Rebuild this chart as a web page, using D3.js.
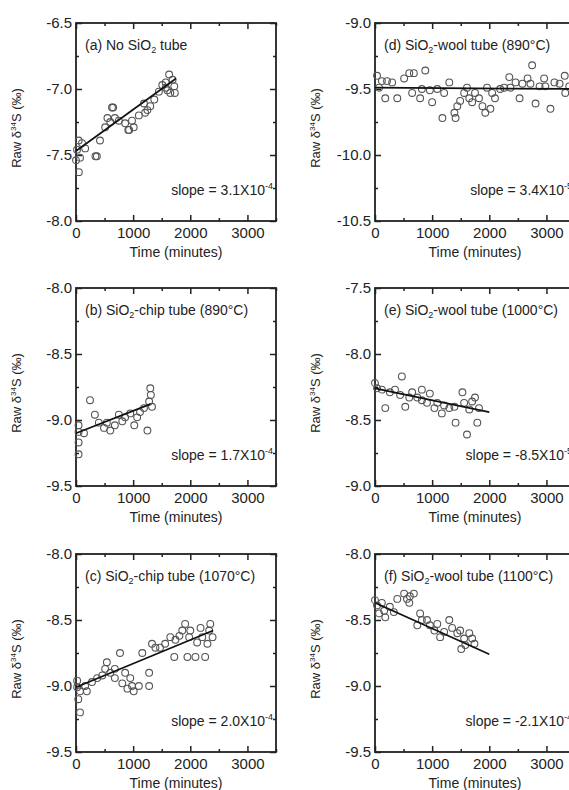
<!DOCTYPE html>
<html>
<head>
<meta charset="utf-8">
<script src="https://cdn.jsdelivr.net/npm/d3@7"></script>
<style>
  body { margin: 0; background: #fff; }
  text { font-family: Arial, "Liberation Sans", sans-serif; fill: #222; }
</style>
</head>
<body>
<script>
// data: [time (minutes), raw d34S (permil)]
var aPoints = [[0,-7.54],[18,-7.46],[47,-7.39],[50,-7.63],[70,-7.52],[105,-7.41],[160,-7.45],[340,-7.51],[365,-7.51],
  [420,-7.39],[510,-7.29],[550,-7.22],[600,-7.25],[630,-7.14],[650,-7.14],[680,-7.22],[750,-7.24],[860,-7.26],
  [915,-7.31],[930,-7.31],[980,-7.24],[1010,-7.29],[1100,-7.20],[1190,-7.11],[1210,-7.18],[1250,-7.16],[1300,-7.13],
  [1370,-7.08],[1450,-7.02],[1510,-6.97],[1570,-6.95],[1570,-6.99],[1600,-7.01],[1630,-6.89],[1650,-7.03],
  [1690,-6.93],[1720,-6.98],[1730,-7.03]];
var dPoints = [[35,-9.40],[70,-9.49],[120,-9.44],[180,-9.57],[210,-9.44],[300,-9.45],[390,-9.57],[510,-9.42],
  [600,-9.38],[650,-9.53],[680,-9.38],[790,-9.57],[820,-9.50],[880,-9.36],[960,-9.51],[1000,-9.60],[1090,-9.50],
  [1180,-9.72],[1210,-9.53],[1300,-9.45],[1390,-9.68],[1410,-9.72],[1440,-9.63],[1490,-9.59],[1560,-9.53],
  [1610,-9.49],[1650,-9.57],[1700,-9.60],[1750,-9.53],[1820,-9.57],[1880,-9.63],[1930,-9.68],[1960,-9.49],
  [2020,-9.65],[2050,-9.53],[2100,-9.57],[2190,-9.50],[2260,-9.49],[2350,-9.41],[2370,-9.49],[2460,-9.45],
  [2530,-9.57],[2580,-9.46],[2670,-9.42],[2720,-9.46],[2750,-9.32],[2810,-9.61],[2880,-9.48],[2960,-9.42],
  [2980,-9.48],[3070,-9.65],[3140,-9.45],[3230,-9.46],[3320,-9.40],[3330,-9.53],[3400,-9.48]];
var bPoints = [[45,-9.04],[45,-9.09],[45,-9.17],[45,-9.26],[140,-9.10],[245,-8.85],[330,-8.96],[400,-9.02],
  [490,-9.06],[540,-9.02],[600,-9.08],[680,-9.04],[750,-8.96],[810,-9.01],[860,-8.98],[950,-8.95],[1020,-9.04],
  [1070,-8.98],[1120,-8.94],[1190,-8.91],[1250,-9.08],[1280,-8.86],[1300,-8.76],[1310,-8.81],[1330,-8.90]];
var ePoints = [[0,-8.22],[35,-8.26],[120,-8.27],[180,-8.41],[260,-8.29],[350,-8.27],[440,-8.31],[470,-8.17],
  [530,-8.40],[600,-8.33],[650,-8.29],[740,-8.33],[820,-8.27],[820,-8.35],[910,-8.37],[960,-8.30],[1040,-8.41],
  [1090,-8.37],[1170,-8.45],[1210,-8.39],[1300,-8.41],[1390,-8.40],[1410,-8.52],[1530,-8.29],[1560,-8.37],
  [1610,-8.61],[1650,-8.42],[1700,-8.36],[1750,-8.33],[1790,-8.52],[1820,-8.41]];
var cPoints = [[20,-9.01],[20,-8.96],[40,-9.10],[70,-9.04],[70,-9.20],[160,-9.00],[190,-9.04],[280,-8.97],
  [370,-8.94],[460,-8.92],[510,-8.87],[540,-8.82],[600,-8.90],[680,-8.94],[680,-8.87],[770,-8.75],[810,-8.98],
  [860,-8.90],[900,-9.02],[950,-8.94],[980,-9.00],[1010,-9.04],[1100,-9.00],[1160,-8.75],[1280,-8.90],
  [1280,-9.00],[1330,-8.68],[1390,-8.71],[1470,-8.71],[1560,-8.68],[1650,-8.63],[1720,-8.78],[1740,-8.65],
  [1810,-8.62],[1860,-8.58],[1910,-8.53],[1950,-8.78],[1980,-8.63],[2000,-8.58],[2090,-8.78],[2120,-8.67],
  [2180,-8.56],[2210,-8.63],[2260,-8.78],[2300,-8.68],[2330,-8.58],[2350,-8.53],[2390,-8.63]];
var fPoints = [[0,-8.35],[35,-8.39],[70,-8.45],[120,-8.37],[160,-8.43],[180,-8.48],[260,-8.40],[330,-8.44],
  [390,-8.34],[510,-8.30],[560,-8.34],[600,-8.37],[610,-8.32],[680,-8.30],[740,-8.54],[790,-8.45],[820,-8.50],
  [910,-8.50],[960,-8.54],[1040,-8.58],[1090,-8.53],[1140,-8.63],[1210,-8.59],[1300,-8.50],[1350,-8.56],
  [1440,-8.60],[1490,-8.58],[1510,-8.72],[1560,-8.64],[1580,-8.69],[1650,-8.60],[1700,-8.64],[1740,-8.68]];

// fitted lines, end points
var aFit = [[0,-7.47],[1750,-6.92]];
var dFit = [[0,-9.49],[3500,-9.50]];
var bFit = [[0,-9.10],[1300,-8.88]];
var eFit = [[0,-8.26],[2000,-8.44]];
var cFit = [[0,-9.01],[2400,-8.58]];
var fFit = [[0,-8.37],[2000,-8.76]];

// y axis ranges
var aDomain = [-8.0, -6.5];
var dDomain = [-10.5, -9.0];
var bDomain = [-9.5, -8.0];
var eDomain = [-9.0, -7.5];
var cDomain = [-9.5, -8.0];
var fDomain = [-9.5, -8.0];

var panelNames = ["(a) No SiO", "(d) SiO", "(b) SiO", "(e) SiO", "(c) SiO", "(f) SiO"];
var panelRest = [" tube", "-wool tube (890°C)", "-chip tube (890°C)", "-wool tube (1000°C)",
                 "-chip tube (1070°C)", "-wool tube (1100°C)"];
var slopeMant = ["3.1X10", "3.4X10", "1.7X10", "-8.5X10", "2.0X10", "-2.1X10"];
var slopeExp = ["-4", "-5", "-4", "-5", "-4", "-4"];

var xDomain = [0, 3500];
var xMajor = [0, 1000, 2000, 3000];
var xMinor = [500, 1500, 2500, 3500];

var width = 569, height = 790;
var plot_w = 200, plot_h = 198;
var col_x = [76, 375];
var row_y = [23, 288, 554];

var svg = d3.select("body").append("svg")
    .attr("width", width)
    .attr("height", height);

var panels = [
  {pts: aPoints, fit: aFit, dom: aDomain, col: 0, row: 0},
  {pts: dPoints, fit: dFit, dom: dDomain, col: 1, row: 0},
  {pts: bPoints, fit: bFit, dom: bDomain, col: 0, row: 1},
  {pts: ePoints, fit: eFit, dom: eDomain, col: 1, row: 1},
  {pts: cPoints, fit: cFit, dom: cDomain, col: 0, row: 2},
  {pts: fPoints, fit: fFit, dom: fDomain, col: 1, row: 2}
];

panels.forEach(function(p, i) {
  var g = svg.append("g")
      .attr("transform", "translate(" + col_x[p.col] + "," + row_y[p.row] + ")");

  var x = d3.scaleLinear().domain(xDomain).range([0, plot_w]);
  var y = d3.scaleLinear().domain(p.dom).range([plot_h, 0]);

  var yMajor = d3.range(p.dom[0], p.dom[1] + 0.01, 0.5);
  var yMinor = d3.range(p.dom[0] + 0.25, p.dom[1], 0.5);

  // bottom / left axes with labels, ticks pointing in
  g.append("g").attr("class", "ax")
      .attr("transform", "translate(0," + plot_h + ")")
      .call(d3.axisBottom(x).tickValues(xMajor).tickSizeInner(-6).tickSizeOuter(0).tickPadding(6)
        .tickFormat(function(d) { return d; }));
  g.append("g").attr("class", "ax")
      .attr("transform", "translate(0," + plot_h + ")")
      .call(d3.axisBottom(x).tickValues(xMinor).tickSizeInner(-3).tickSizeOuter(0).tickFormat(""));
  g.append("g").attr("class", "ax")
      .call(d3.axisLeft(y).tickValues(yMajor).tickSizeInner(-6).tickSizeOuter(0).tickPadding(4)
        .tickFormat(function(d) { return d.toFixed(1); }));
  g.append("g").attr("class", "ax")
      .call(d3.axisLeft(y).tickValues(yMinor).tickSizeInner(-3).tickSizeOuter(0).tickFormat(""));

  // top / right ticks
  g.append("g").attr("class", "ax")
      .call(d3.axisTop(x).tickValues(xMajor).tickSizeInner(-6).tickSizeOuter(0).tickFormat(""));
  g.append("g").attr("class", "ax")
      .call(d3.axisTop(x).tickValues(xMinor).tickSizeInner(-3).tickSizeOuter(0).tickFormat(""));
  g.append("g").attr("class", "ax")
      .attr("transform", "translate(" + plot_w + ",0)")
      .call(d3.axisRight(y).tickValues(yMajor).tickSizeInner(-6).tickSizeOuter(0).tickFormat(""));
  g.append("g").attr("class", "ax")
      .attr("transform", "translate(" + plot_w + ",0)")
      .call(d3.axisRight(y).tickValues(yMinor).tickSizeInner(-3).tickSizeOuter(0).tickFormat(""));

  g.selectAll(".ax .domain").remove();
  g.selectAll(".ax line").attr("stroke", "#222").attr("stroke-width", 1.5);
  g.selectAll(".ax text")
      .attr("font-size", 15)
      .attr("fill", "#222")
      .attr("font-family", "Arial, 'Liberation Sans', sans-serif");

  // frame
  g.append("rect")
      .attr("width", plot_w)
      .attr("height", plot_h)
      .attr("fill", "none")
      .attr("stroke", "#222")
      .attr("stroke-width", 1.8);

  // points
  g.selectAll("circle")
      .data(p.pts)
      .enter().append("circle")
      .attr("cx", function(d) { return x(d[0]); })
      .attr("cy", function(d) { return y(d[1]); })
      .attr("r", 3.4)
      .attr("fill", "none")
      .attr("stroke", "#555")
      .attr("stroke-width", 1.1);

  // fit line
  g.append("path")
      .datum(p.fit)
      .attr("d", d3.line().x(function(d) { return x(d[0]); }).y(function(d) { return y(d[1]); }))
      .attr("stroke", "#111")
      .attr("stroke-width", 1.7)
      .attr("fill", "none");

  // panel label
  var lab = g.append("text")
      .attr("x", 9)
      .attr("y", 27)
      .attr("font-size", 14);
  lab.append("tspan").text(panelNames[i]);
  lab.append("tspan").attr("dy", 3).attr("font-size", 9).text("2");
  lab.append("tspan").attr("dy", -3).text(panelRest[i]);

  // slope text
  var sl = g.append("text")
      .attr("x", plot_w - 3)
      .attr("y", plot_h - 26)
      .attr("text-anchor", "end")
      .attr("font-size", 14);
  sl.append("tspan").text("slope = " + slopeMant[i]);
  sl.append("tspan").attr("dy", -6).attr("font-size", 9).text(slopeExp[i]);

  // axis titles
  g.append("text")
      .attr("x", plot_w / 2)
      .attr("y", plot_h + 36)
      .attr("text-anchor", "middle")
      .attr("font-size", 14)
      .text("Time (minutes)");

  var yt = g.append("text")
      .attr("transform", "translate(-55," + (plot_h / 2 + 6) + ") rotate(-90)")
      .attr("text-anchor", "middle")
      .attr("font-size", 13);
  yt.append("tspan").text("Raw δ");
  yt.append("tspan").attr("dy", -5).attr("font-size", 8).text("34");
  yt.append("tspan").attr("dy", 5).text("S (‰)");
});
</script>
</body>
</html>
